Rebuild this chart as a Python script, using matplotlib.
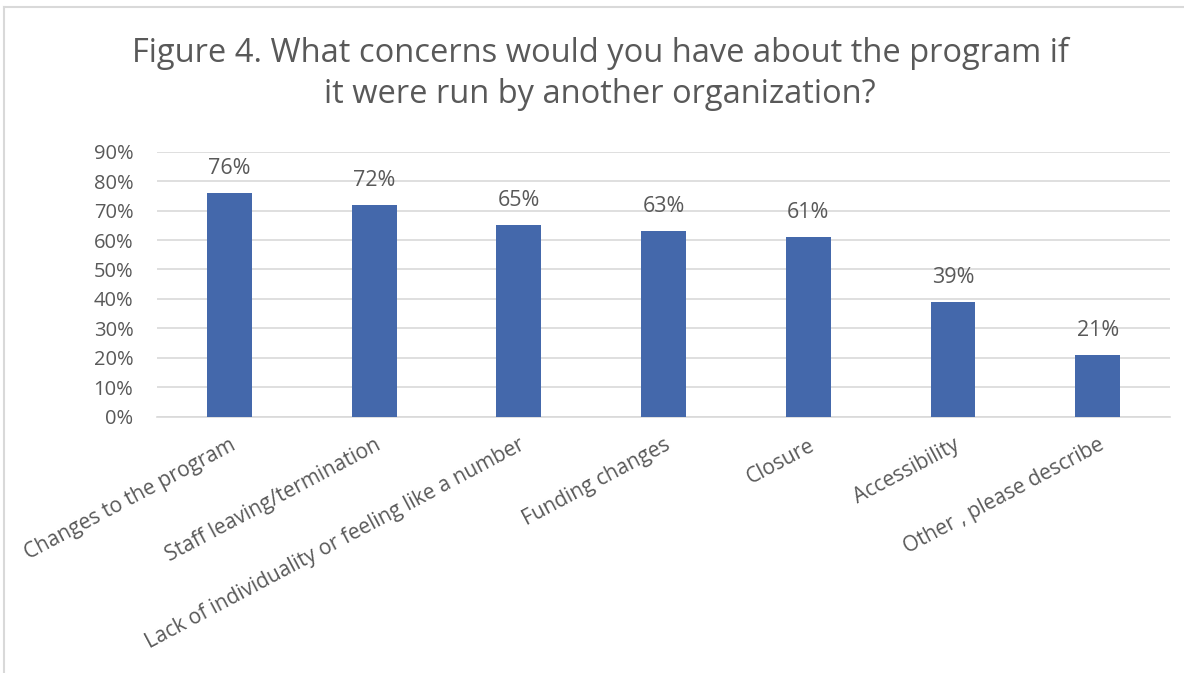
import matplotlib
matplotlib.use("Agg")
import matplotlib.pyplot as plt
from matplotlib.lines import Line2D
from matplotlib.ticker import FuncFormatter

categories = ["Changes to the program", "Staff leaving/termination",
              "Lack of individuality or feeling like a number", "Funding changes",
              "Closure", "Accessibility", "Other , please describe"]
values = [0.76, 0.72, 0.65, 0.63, 0.61, 0.39, 0.21]
yticks = [0, 0.1, 0.2, 0.3, 0.4, 0.5, 0.6, 0.7, 0.8, 0.9]
title = "Figure 4. What concerns would you have about the program if\nit were run by another organization?"

plt.rcParams['font.family'] = ['Open Sans', 'DejaVu Sans']
TXT = "#595959"
GRID = "#d9d9d9"
BAR = "#4468ab"

fig = plt.figure(figsize=(11.84, 6.73), dpi=100)
ax = fig.add_axes([0.1326, 0.3808, 0.8556, 0.3938])

x = list(range(len(categories)))
ax.bar(x, values, width=0.31, color=BAR, zorder=3)
for xi, v in zip(x, values):
    ax.text(xi, v + 0.047, f"{round(v*100):.0f}%", ha="center", va="bottom",
            fontsize=15.5, color=TXT)

ax.set_xlim(-0.5, len(categories) - 0.5)
ax.set_ylim(0, 0.9)
ax.set_yticks(yticks)
ax.yaxis.set_major_formatter(FuncFormatter(lambda v, p: f"{round(v*100):.0f}%"))
ax.grid(axis="y", color=GRID, linewidth=1.2, zorder=0)
for s in ["top", "right", "left"]:
    ax.spines[s].set_visible(False)
ax.spines["bottom"].set_color(GRID)
ax.spines["bottom"].set_linewidth(1.2)
ax.tick_params(axis="y", length=0, labelsize=14.5, labelcolor=TXT, pad=17)
ax.tick_params(axis="x", length=0, labelsize=15, labelcolor=TXT, pad=13)
ax.set_xticks(x)
ax.set_xticklabels(categories, rotation=28, ha="right", rotation_mode="anchor")

fig.text(0.507, 0.945, title, ha="center", va="top", fontsize=23.5, color=TXT,
         linespacing=1.3)

# chart border (light gray)
fig.add_artist(Line2D([0.0035, 0.0035], [0, 0.99], transform=fig.transFigure,
                      color=GRID, linewidth=1.5))
fig.add_artist(Line2D([0.0035, 1.0], [0.99, 0.99], transform=fig.transFigure,
                      color=GRID, linewidth=1.5))

fig.savefig("out.png", dpi=100, facecolor="white")
